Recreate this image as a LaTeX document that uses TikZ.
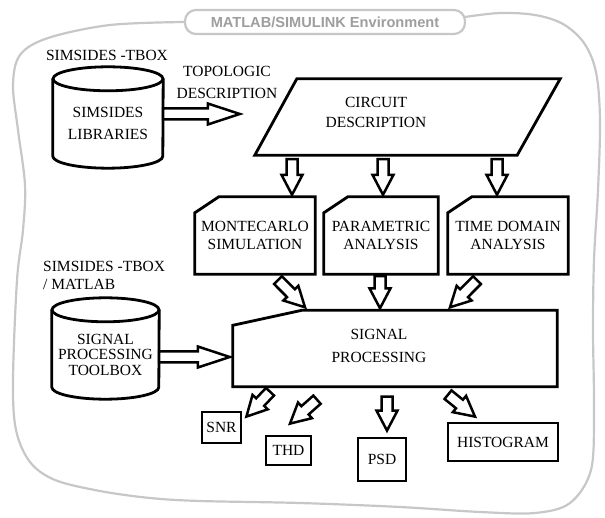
\documentclass[tikz,border=0pt]{standalone}
\usepackage{fontspec}
\setmainfont{Liberation Serif}
\newfontfamily\titlefont{Liberation Sans}
\usepackage{tikz}
\usetikzlibrary{calc}
\usetikzlibrary{backgrounds}

\newcommand{\fatarrow}[3][20]{%
  \coordinate (fa) at ($(#3)!#1pt!(#2)$);
  \draw[fatline] ($(#2)!5.5pt!90:(#3)$) -- ($(fa)!5.5pt!-90:(#2)$) -- ($(fa)!10.5pt!-90:(#2)$) -- (#3)
    -- ($(fa)!10.5pt!90:(#2)$) -- ($(fa)!5.5pt!90:(#2)$) -- ($(#2)!5.5pt!-90:(#3)$) -- cycle;
}

\begin{document}
\begin{tikzpicture}[x=1pt,y=-1pt,
    boxline/.style={draw, line width=2.8pt, line join=miter},
    fatline/.style={draw, line width=2.5pt, fill=white, line join=miter},
    envline/.style={draw=black!22, line width=2.2pt},
    txt/.style={font=\fontsize{15.5}{18}\selectfont, align=center, inner sep=0pt}]
    \useasboundingbox (0,0) rectangle (605,518);

    \draw[envline] plot[smooth, tension=0.55] coordinates {(465,17) (500,13) (535,15) (563,24) (584,43) (596,72)
        (600,120) (598,190) (594,260) (593,330) (594,410) (591,470) (570,503) (535,513) (480,512) (400,507)
        (300,503) (200,501) (150,498) (100,491) (55,480) (30,462) (16,430) (13,380) (17,280) (23,230)
        (25,185) (18,130) (13,85) (20,55) (48,38) (110,25) (185,22)};
    \node[envline, fill=white, rounded corners=11pt, minimum width=280pt, minimum height=24pt,
        font=\titlefont\bfseries\fontsize{14.6}{16}\selectfont, text=black!38] (env) at (325,22) {MATLAB/SIMULINK Environment};

    \begin{scope}[every node/.style={txt}]
        \node (tbox1) at (107,55) {SIMSIDES -TBOX};
        \node[font=\fontsize{15.5}{22}\selectfont] (topo) at (227,82) {TOPOLOGIC\\DESCRIPTION};

        \node[minimum width=110pt, minimum height=89pt, font=\fontsize{15.5}{22}\selectfont] (lib) at (108,123.5) {SIMSIDES\\LIBRARIES};
        \draw[boxline] (lib.north west) -- ([yshift=12pt]lib.south west) arc[start angle=180, end angle=360, x radius=55pt, y radius=12pt] -- (lib.north east);
        \draw[boxline] (lib.north) ellipse [x radius=55pt, y radius=12pt];

        \node[minimum width=305pt, minimum height=76pt] (cd) at (407.5,117) {};
        \draw[boxline] ([xshift=42pt]cd.north west) -- (cd.north east) -- ([xshift=-43pt]cd.south east) -- (cd.south west) -- cycle;
        \node[font=\fontsize{15.5}{20}\selectfont] (cdlabel) at (376,112) {CIRCUIT\\DESCRIPTION};

        \foreach \n/\x/\w/\t in {mc/255/120/{MONTECARLO\\SIMULATION}, pa/381/114/{PARAMETRIC\\ANALYSIS}, td/508/120/{TIME DOMAIN\\ANALYSIS}}
        {
            \node[minimum width=\w pt, minimum height=77pt] (\n) at (\x,235.5) {\t};
            \draw[boxline] ([yshift=-16pt]\n.north west) -- ([xshift=24pt]\n.north west) -- (\n.north east) -- (\n.south east) -- (\n.south west) -- cycle;
        }

        \node[anchor=west, align=left] (tbox2) at (43,275) {SIMSIDES -TBOX\\/ MATLAB};

        \node[minimum width=107pt, minimum height=89pt, font=\fontsize{15.5}{15.5}\selectfont] (spt) at (105.5,354.5) {SIGNAL\\PROCESSING\\TOOLBOX};
        \draw[boxline] (spt.north west) -- ([yshift=12pt]spt.south west) arc[start angle=180, end angle=360, x radius=53.5pt, y radius=12pt] -- (spt.north east);
        \draw[boxline] (spt.north) ellipse [x radius=53.5pt, y radius=12pt];

        \node[minimum width=324pt, minimum height=76pt] (sp) at (395,348.5) {};
        \draw[boxline] ([yshift=-15pt]sp.north west) -- ([xshift=69pt]sp.north west) -- (sp.north east) -- (sp.south east) -- (sp.south west) -- cycle;
        \node[font=\fontsize{15.5}{23}\selectfont] (splabel) at (379,345.5) {SIGNAL\\PROCESSING};

        \foreach \n/\x/\y/\w/\h/\t in {snr/221.5/427.5/39/31/SNR, thd/288.5/450.5/45/29/THD, psd/382/459.5/48/43/PSD, hist/503/442/110/38/HISTOGRAM}
            \node[boxline, minimum width=\w pt, minimum height=\h pt] (\n) at (\x,\y) {\t};
    \end{scope}

    \coordinate (lib-o) at ($(lib.east)+(0,-9.5)$);
    \coordinate (cd-i) at ($(cd.west)+(-15,-3)$);
    \coordinate (spt-o) at ($(spt.east)+(0,2.5)$);
    \coordinate (sp-i) at ($(sp.west)+(-3,8.5)$);
    \coordinate (cd-o1) at ($(cd.south)+(-115.5,4)$);
    \coordinate (cd-o2) at ($(cd.south)+(-24.5,4)$);
    \coordinate (cd-o3) at ($(cd.south)+(89.5,4)$);
    \coordinate (mc-i) at ($(mc.north)+(37,-2)$);
    \coordinate (pa-i) at ($(pa.north)+(2,-2)$);
    \coordinate (td-i) at ($(td.north)+(-11,-2)$);
    \coordinate (mc-o) at ($(mc.south)+(23,6)$);
    \coordinate (pa-o) at ($(pa.south)+(-1,2)$);
    \coordinate (td-o) at ($(td.south)+(-31,6)$);
    \coordinate (sp-i1) at ($(sp.north)+(-90,-3)$);
    \coordinate (sp-i2) at ($(sp.north)+(-15,-2)$);
    \coordinate (sp-i3) at ($(sp.north)+(55,-3)$);
    \coordinate (sp-o1) at ($(sp.south)+(-125,5)$);
    \coordinate (sp-o2) at ($(sp.south)+(-78,13)$);
    \coordinate (sp-o3) at ($(sp.south)+(-8,10)$);
    \coordinate (sp-o4) at ($(sp.south)+(53,8)$);
    \coordinate (snr-i) at ($(snr.north east)+(4,6)$);
    \coordinate (thd-i) at ($(thd.north)+(1.5,-11)$);
    \coordinate (psd-i) at ($(psd.north)+(5,-6)$);
    \coordinate (hist-i) at ($(hist.north)+(-28,-5)$);

    \fatarrow[32]{lib-o}{cd-i}
    \fatarrow[32]{spt-o}{sp-i}
    \fatarrow{cd-o1}{mc-i}
    \fatarrow{cd-o2}{pa-i}
    \fatarrow{cd-o3}{td-i}
    \fatarrow{mc-o}{sp-i1}
    \fatarrow{pa-o}{sp-i2}
    \fatarrow{td-o}{sp-i3}
    \fatarrow{sp-o1}{snr-i}
    \fatarrow{sp-o2}{thd-i}
    \fatarrow{sp-o3}{psd-i}
    \fatarrow{sp-o4}{hist-i}
\end{tikzpicture}
\end{document}
